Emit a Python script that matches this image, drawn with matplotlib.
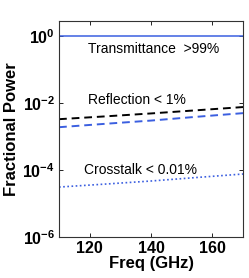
import matplotlib
matplotlib.use('Agg')
import matplotlib.pyplot as plt
import numpy as np

plt.rcParams['font.family'] = ['Liberation Sans', 'DejaVu Sans']
plt.rcParams['mathtext.fontset'] = 'custom'
plt.rcParams['mathtext.rm'] = 'Liberation Sans:bold'
plt.rcParams['mathtext.bf'] = 'Liberation Sans:bold'

# data
freq = [110, 125, 140, 155, 170]
transmittance = [0.99, 0.99, 0.99, 0.99, 0.99]
reflection_black = [3.3e-3, 4.0e-3, 4.9e-3, 6.1e-3, 7.6e-3]
reflection_blue = [1.9e-3, 2.4e-3, 3.0e-3, 3.9e-3, 5.0e-3]
crosstalk = [3.1e-5, 3.8e-5, 4.7e-5, 6.0e-5, 7.6e-5]

xticks = [120, 140, 160]
yticks = [1e0, 1e-2, 1e-4, 1e-6]
yticklabels = [r'$\mathbf{10^{0}}$', r'$\mathbf{10^{-2}}$', r'$\mathbf{10^{-4}}$', r'$\mathbf{10^{-6}}$']

blue = '#3b5fe0'

fig = plt.figure(figsize=(2.49, 2.78), dpi=100)
ax = fig.add_axes([0.237, 0.1475, 0.739, 0.7765])

ax.plot(freq, transmittance, color=blue, lw=1.1)
ax.plot(freq, reflection_black, color='black', lw=1.4, ls=(0, (4, 2.5)))
ax.plot(freq, reflection_blue, color=blue, lw=1.4, ls=(0, (4, 2.5)))
ax.plot(freq, crosstalk, color=blue, lw=1.2, ls=(0, (1, 1.5)))

ax.set_yscale('log')
ax.set_xlim(110, 170)
ax.set_ylim(1e-6, 2.8)
ax.set_xticks(xticks)
ax.set_xticklabels([str(t) for t in xticks], fontsize=11.5, fontweight='bold')
ax.set_yticks(yticks)
ax.set_yticklabels(yticklabels, fontsize=11.5)
ax.yaxis.set_minor_locator(matplotlib.ticker.NullLocator())
ax.tick_params(direction='in', top=True, right=True, length=3, width=0.6, pad=3)
for s in ax.spines.values():
    s.set_linewidth(0.8)
    s.set_color('#333333')

ax.set_xlabel('Freq (GHz)', fontsize=12, fontweight='bold', labelpad=0)
ax.set_ylabel('Fractional Power', fontsize=12, fontweight='bold', labelpad=2)

ax.text(119.5, 0.41, 'Transmittance  >99%', fontsize=10, va='center')
ax.text(119.5, 1.2e-2, 'Reflection < 1%', fontsize=10, va='center')
ax.text(118.3, 1.0e-4, 'Crosstalk < 0.01%', fontsize=10, va='center')

fig.savefig('out.png', dpi=100)
